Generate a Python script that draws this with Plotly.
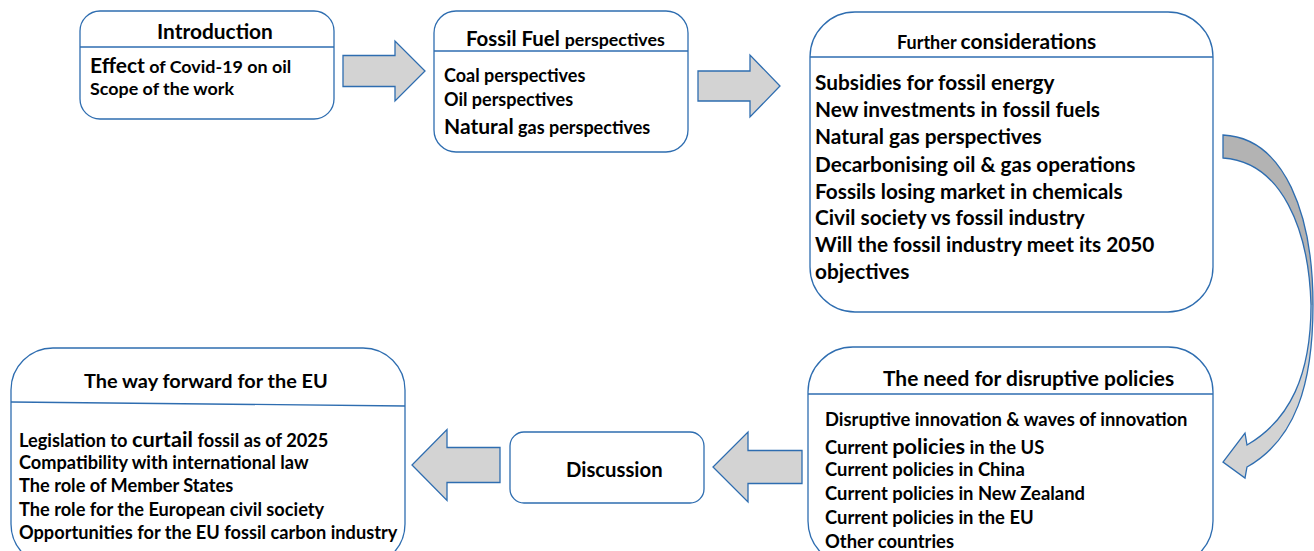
import plotly.graph_objects as go

# ---------------- data (text content) ----------------
# words between '|' are written in a larger size
titles = [
    "Introduction",
    "Fossil Fuel|perspectives",
    "Further|considerations",
    "The need for disruptive policies",
    "The way forward for the EU",
    "Discussion",
]
intro_items = ["|Effect| of Covid-19 on oil", "Scope of the work"]
fossil_items = ["Coal perspectives", "Oil perspectives", "|Natural| gas perspectives"]
further_items = [
    "Subsidies for fossil energy",
    "New investments in fossil fuels",
    "Natural gas perspectives",
    "Decarbonising oil & gas operations",
    "Fossils losing market in chemicals",
    "Civil society vs fossil industry",
    "Will the fossil industry meet its 2050",
    "objectives",
]
policy_items = [
    "Disruptive innovation & waves of innovation",
    "Current |policies| in the US",
    "Current policies in China",
    "Current policies in New Zealand",
    "Current policies in the EU",
    "Other countries",
]
eu_items = [
    "Legislation to |curtail| fossil as of 2025",
    "Compatibility with international law",
    "The role of Member States",
    "The role for the European civil society",
    "Opportunities for the EU fossil carbon industry",
]

# ---------------- layout geometry (page pixels) ----------------
W, H = 1314, 551
BLUE = "#2E6DB0"
ARROW_FILL = "#D3D3D3"
FONT = "Lato"

# box: x0, y0, x1, y1, radius, header y (left, right)
box_geo = {
    "intro": (80, 11, 334, 119, 20, 47, 47),
    "fossil": (434, 11, 688, 152, 22, 51, 51),
    "further": (810, 12, 1213, 312, 45, 57, 57),
    "policy": (808, 347, 1213, 566, 45, 394, 394),
    "eu": (11, 348, 405, 566, 42, 402, 406),
    "disc": (510, 432, 704, 503, 14, None, None),
}

fig = go.Figure()
shapes = []
annotations = []


def rrect(x0, y0, x1, y1, r):
    k = 0.5523 * r
    return (
        f"M{x0 + r},{y0} L{x1 - r},{y0} "
        f"C{x1 - r + k},{y0} {x1},{y0 + r - k} {x1},{y0 + r} "
        f"L{x1},{y1 - r} "
        f"C{x1},{y1 - r + k} {x1 - r + k},{y1} {x1 - r},{y1} "
        f"L{x0 + r},{y1} "
        f"C{x0 + r - k},{y1} {x0},{y1 - r + k} {x0},{y1 - r} "
        f"L{x0},{y0 + r} "
        f"C{x0},{y0 + r - k} {x0 + r - k},{y0} {x0 + r},{y0} Z"
    )


for key, (x0, y0, x1, y1, r, hl, hr) in box_geo.items():
    shapes.append(dict(type="path", path=rrect(x0, y0, x1, y1, r), xref="x", yref="y",
                       line=dict(color=BLUE, width=1.3), fillcolor="white", layer="below"))
    if hl is not None:
        shapes.append(dict(type="line", x0=x0, x1=x1, y0=hl, y1=hr, xref="x", yref="y",
                           line=dict(color=BLUE, width=1.3)))


def h_arrow(xb0, xb1, xt, yc, bh, hh):
    return (f"M{xb0},{yc - bh} L{xb1},{yc - bh} L{xb1},{yc - hh} L{xt},{yc} "
            f"L{xb1},{yc + hh} L{xb1},{yc + bh} L{xb0},{yc + bh} Z")


arrow_geo = [
    (343, 395, 425, 71, 15.5, 30),
    (698, 750, 780, 86, 15, 31),
    (802, 748, 713, 467, 16.5, 35),
    (500, 447, 412, 465, 17.5, 35.5),
]
for a in arrow_geo:
    shapes.append(dict(type="path", path=h_arrow(*a), xref="x", yref="y",
                       line=dict(color=BLUE, width=1.3), fillcolor=ARROW_FILL))

# curved arrow
top_part = ("M1223,135 C1285,138 1313,215 1313,305 "
            "L1311,305 C1309,230 1282,162 1223,158 Z")
bottom_part = ("M1313,305 C1313,385 1295,440 1247,467 L1245,478 L1223,462 L1245,433 L1247,445 "
               "C1290,420 1311,375 1311,305 Z")
outline = ("M1223,135 C1285,138 1313,215 1313,305 "
           "C1313,385 1295,440 1247,467 L1245,478 L1223,462 L1245,433 L1247,445 "
           "C1290,420 1311,375 1311,305 C1309,230 1282,162 1223,158 Z")
shapes.append(dict(type="path", path=top_part, xref="x", yref="y",
                   line=dict(width=0), fillcolor="#B3B3B3"))
shapes.append(dict(type="path", path=bottom_part, xref="x", yref="y",
                   line=dict(width=0), fillcolor="#D3D3D3"))
shapes.append(dict(type="path", path=outline, xref="x", yref="y",
                   line=dict(color=BLUE, width=1.3), fillcolor="rgba(0,0,0,0)"))


def rich(s, big, small):
    parts = s.split("|")
    out = ""
    for i, p in enumerate(parts):
        if not p:
            continue
        size = big if i % 2 == 1 else small
        out += f"<span style='font-size:{size}px'>{p}</span>"
    return f"<b>{out}</b>"


def rich_title(s, first, second):
    parts = s.split("|")
    if len(parts) == 1:
        return f"<b><span style='font-size:{first}px'>{parts[0]}</span></b>"
    return (f"<b><span style='font-size:{first}px'>{parts[0]}</span> "
            f"<span style='font-size:{second}px'>{parts[1]}</span></b>")


def add_text(text, x, y, xanchor="left", size=16):
    annotations.append(dict(text=text, x=x, y=y, xref="x", yref="y", xanchor=xanchor,
                            yanchor="middle", showarrow=False,
                            font=dict(family=FONT, size=size, color="black")))


title_pos = [
    (214.5, 30, 20.9, 20.9),
    (565.5, 38, 20.4, 17.8),
    (996, 40, 18, 20.9),
    (1028, 377, 20.9, 20.9),
    (205.5, 380, 19.9, 19.9),
    (614, 469, 20.3, 20.3),
]
for t, (x, y, s1, s2) in zip(titles, title_pos):
    add_text(rich_title(t, s1, s2), x, y, xanchor="center", size=s1)

item_groups = [
    (intro_items, 88, [64, 88], 21, 17.9),
    (fossil_items, 442, [75, 99, 125], 21, 18),
    (further_items, 813, [81, 108, 135, 163, 190, 216, 243, 270], 20.8, 20.8),
    (policy_items, 823, [419, 446, 469, 493, 517, 541], 21.7, 18.4),
    (eu_items, 17, [438, 462, 485, 509, 532], 21.8, 18.2),
]
for items, x, ys, big, small in item_groups:
    for it, y in zip(items, ys):
        add_text(rich(it, big, small), x, y, size=small)

fig.update_layout(
    width=W, height=H,
    margin=dict(l=0, r=0, t=0, b=0),
    paper_bgcolor="white", plot_bgcolor="white",
    xaxis=dict(range=[0, W], visible=False, fixedrange=True),
    yaxis=dict(range=[H, 0], visible=False, fixedrange=True),
    shapes=shapes, annotations=annotations, showlegend=False,
)
# remove the default page margin so the figure fills the window exactly
fig.write_html("out.html",
               config={"displayModeBar": False},
               post_script="document.body.style.margin='0';document.body.style.overflow='hidden';")
